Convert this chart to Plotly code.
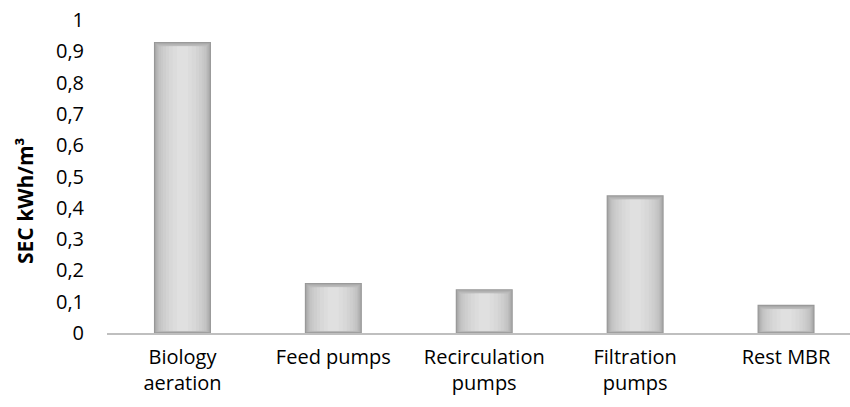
import plotly.graph_objects as go

# Specific energy consumption of the MBR plant, by consumer
categories = ["Biology<br>aeration", "Feed pumps", "Recirculation<br>pumps",
              "Filtration<br>pumps", "Rest MBR"]
sec_values = [0.93, 0.16, 0.14, 0.44, 0.09]
y_tick_values = [0, 0.1, 0.2, 0.3, 0.4, 0.5, 0.6, 0.7, 0.8, 0.9, 1]
y_tick_labels = ["0", "0,1", "0,2", "0,3", "0,4", "0,5", "0,6", "0,7", "0,8", "0,9", "1"]

FONT = "Open Sans"
W, H = 850, 407
M_L, M_R, M_T, M_B = 107, 0, 20, 74
plot_w = W - M_L - M_R
plot_h = H - M_T - M_B
px_per_cat = 150.9
x_range = [-0.5, -0.5 + plot_w / px_per_cat]
bar_w = 57 / px_per_cat
px_y = 1.0 / plot_h          # one pixel in data units (y)
px_x = 1.0 / px_per_cat      # one pixel in category units (x)

fig = go.Figure()

# Shaded bars: stacked layers of narrowing width, darker at the rim and light in the middle
insets = [0, 1, 2, 3, 4, 5, 7, 9, 12, 15, 19, 23]
edge = (150, 150, 150)
centre = (224, 224, 224)
n = len(insets)
for i, d in enumerate(insets):
    t = (i / (n - 1)) ** 0.6
    c = tuple(round(edge[k] + (centre[k] - edge[k]) * t) for k in range(3))
    dv = min(d, 5) * px_y * 0.9
    tops = [max(v - dv, 0) for v in sec_values]
    bases = [min(dv * 0.5, v / 2) for v in sec_values]
    fig.add_trace(go.Bar(
        x=list(range(len(categories))),
        y=[tp - b for tp, b in zip(tops, bases)],
        base=bases,
        width=max(bar_w - 2 * d * px_x, 2 * px_x),
        marker=dict(color="rgb(%d,%d,%d)" % c, line=dict(width=0)),
        hoverinfo="skip" if i else None,
        showlegend=False,
    ))

fig.update_layout(
    width=W, height=H,
    margin=dict(l=M_L, r=M_R, t=M_T, b=M_B, pad=0),
    paper_bgcolor="white", plot_bgcolor="white",
    barmode="overlay",
    font=dict(family=FONT, size=20, color="#000000"),
    xaxis=dict(
        range=x_range,
        tickmode="array",
        tickvals=list(range(len(categories))),
        ticktext=categories,
        showgrid=False, zeroline=False,
        showline=True, linecolor="#BFBFBF", linewidth=2,
        ticks="", tickfont=dict(size=20, family=FONT, color="#000"),
        ticklabelstandoff=5,
    ),
    yaxis=dict(
        range=[0, 1],
        tickmode="array",
        tickvals=y_tick_values,
        ticktext=y_tick_labels,
        showgrid=False, zeroline=False, showline=False,
        ticks="", tickfont=dict(size=20, family=FONT, color="#000"),
        ticklabelstandoff=22,
    ),
    annotations=[dict(
        text="<b>SEC kWh/m³</b>",
        xref="paper", yref="paper",
        x=(25 - M_L) / plot_w, y=(H - M_B - 201) / plot_h,
        xanchor="center", yanchor="middle",
        textangle=-90, showarrow=False,
        font=dict(family=FONT, size=21, color="#000"),
    )],
)

fig.write_html("out.html")
